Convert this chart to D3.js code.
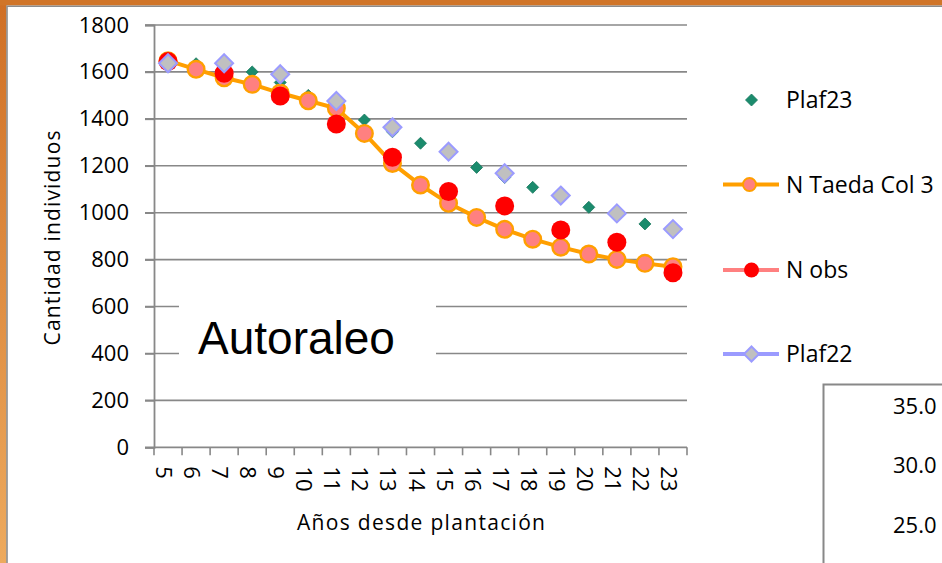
<!DOCTYPE html>
<html><head><meta charset="utf-8">
<script src="https://cdn.jsdelivr.net/npm/d3@7"></script>
<style>body{margin:0;background:#fff;} svg{display:block;font-family:'Open Sans',sans-serif;}</style>
</head><body><svg id="c" width="942" height="563"></svg>
<script>
const years = [5,6,7,8,9,10,11,12,13,14,15,16,17,18,19,20,21,22,23];
const yTicks = [0,200,400,600,800,1000,1200,1400,1600,1800];
const plaf23 = [1645,1635,1615,1600,1555,1500,1450,1395,1345,1296,1250,1193,1150,1108,1065,1023,990,952,925];
const nTaeda = [1648,1611,1575,1547,1510,1477,1445,1338,1210,1118,1040,980,929,887,853,824,801,784,770];
const nObs   = [1644,null,1594,null,1497,null,1378,null,1236,null,1090,null,1029,null,926,null,874,null,744];
const plaf22 = [1637,null,1637,null,1590,null,1476,null,1364,null,1260,null,1168,null,1073,null,997,null,930];
const seriesNames = ["Plaf23","N Taeda Col 3","N obs","Plaf22"];
const xTitle = "Años desde plantación";
const yTitle = "Cantidad individuos";
const boxText = "Autoraleo";
const sideTicks = ["35.0","30.0","25.0"];

const svg = d3.select("#c");
const W = 942, H = 563;

// frame
const defs = svg.append("defs");
const g1 = defs.append("linearGradient").attr("id","lg").attr("x1",0).attr("y1",0).attr("x2",0).attr("y2",1);
g1.append("stop").attr("offset","0%").attr("stop-color","#CF6F25");
g1.append("stop").attr("offset","100%").attr("stop-color","#EDAA5E");
svg.append("rect").attr("x",0).attr("y",0).attr("width",W).attr("height",H).attr("fill","#fff");
svg.append("rect").attr("x",0).attr("y",0).attr("width",6.5).attr("height",H).attr("fill","url(#lg)");
svg.append("rect").attr("x",0).attr("y",0).attr("width",W).attr("height",5.5).attr("fill","#D07529");
svg.append("path").attr("d",`M7,${H} V6.2 H${W}`).attr("fill","none").attr("stroke","#8c8c8c").attr("stroke-width",1.6);

// scales
const x = d3.scaleBand().domain(years).range([154,687]).padding(0);
const y = d3.scaleLinear().domain([0,1800]).range([447.3,25]);
const cx = d => x(d) + x.bandwidth()/2;

// gridlines
svg.append("g").selectAll("line").data(yTicks.filter(t=>t>0)).join("line")
  .attr("x1",145).attr("x2",687).attr("y1",d=>y(d)).attr("y2",d=>y(d))
  .attr("stroke","#888").attr("stroke-width",1.6);

// y axis
const ya = svg.append("g").attr("transform","translate(154,0)")
  .call(d3.axisLeft(y).tickValues(yTicks).tickSize(9).tickPadding(16).tickFormat(d3.format("d")));
ya.select(".domain").attr("stroke","#888").attr("stroke-width",1.8);
ya.selectAll(".tick line").attr("stroke","#888").attr("stroke-width",1.6);
ya.selectAll(".tick text").attr("font-size",22).attr("font-family","'Open Sans',sans-serif").attr("fill","#000");

// x axis
const xa = svg.append("g").attr("transform","translate(0,447.3)");
xa.append("line").attr("x1",145).attr("x2",687).attr("y1",0).attr("y2",0).attr("stroke","#888").attr("stroke-width",1.8);
const bounds = years.map(d=>x(d)).concat([687]);
xa.selectAll("line.t").data(bounds).join("line").attr("class","t")
  .attr("x1",d=>d).attr("x2",d=>d).attr("y1",0).attr("y2",8).attr("stroke","#888").attr("stroke-width",1.6);
xa.selectAll("text").data(years).join("text")
  .attr("transform",d=>`translate(${cx(d)},19) rotate(90)`)
  .attr("dy",12).attr("font-size",22).attr("fill","#000").text(d=>d);

// axis titles
svg.append("text").attr("x",421).attr("y",530).attr("text-anchor","middle").attr("font-size",21)
  .attr("textLength",248).attr("lengthAdjust","spacing").text(xTitle);
svg.append("text").attr("transform","translate(60,238) rotate(-90)").attr("text-anchor","middle")
  .attr("font-size",21).attr("textLength",215).attr("lengthAdjust","spacing").text(yTitle);

// text box
svg.append("rect").attr("x",179).attr("y",272).attr("width",257).attr("height",105).attr("fill","#fff");
svg.append("text").attr("x",198).attr("y",354).attr("font-size",46)
  .attr("font-family","'Liberation Sans',Arial,sans-serif").attr("fill","#000").text(boxText);

// markers
const diamond = r => `M0,${-r}L${r},0L0,${r}L${-r},0Z`;
const plot = svg.append("g");
// Plaf23
plot.append("g").selectAll("path").data(years.map((d,i)=>[d,plaf23[i]]).filter(p=>p[1]!=null)).join("path")
  .attr("transform",p=>`translate(${cx(p[0])},${y(p[1])})`).attr("d",diamond(6))
  .attr("fill","#1B8B6D").attr("stroke","#16775d").attr("stroke-width",0.8);
// N Taeda line + circles
const tdata = years.map((d,i)=>[d,nTaeda[i]]);
plot.append("path").datum(tdata).attr("d",d3.line().x(p=>cx(p[0])).y(p=>y(p[1])))
  .attr("fill","none").attr("stroke","#FF9F00").attr("stroke-width",4);
plot.append("g").selectAll("circle").data(tdata).join("circle")
  .attr("cx",p=>cx(p[0])).attr("cy",p=>y(p[1])).attr("r",8.3)
  .attr("fill","#FF8080").attr("stroke","#FF9F00").attr("stroke-width",2.4);
// N obs
plot.append("g").selectAll("circle").data(years.map((d,i)=>[d,nObs[i]]).filter(p=>p[1]!=null)).join("circle")
  .attr("cx",p=>cx(p[0])).attr("cy",p=>y(p[1])).attr("r",9.5).attr("fill","#FF0000");
// Plaf22
plot.append("g").selectAll("path").data(years.map((d,i)=>[d,plaf22[i]]).filter(p=>p[1]!=null)).join("path")
  .attr("transform",p=>`translate(${cx(p[0])},${y(p[1])})`).attr("d",diamond(9))
  .attr("fill","#C0C0C0").attr("stroke","#9B9BFF").attr("stroke-width",2);

// legend
const lg = svg.append("g");
const lx = 751.5, ly = [100,184.5,270,354];
lg.append("path").attr("transform",`translate(${lx},${ly[0]})`).attr("d",diamond(6)).attr("fill","#1B8B6D").attr("stroke","#16775d").attr("stroke-width",0.8);
lg.append("line").attr("x1",723).attr("x2",779).attr("y1",ly[1]).attr("y2",ly[1]).attr("stroke","#FF9F00").attr("stroke-width",4);
lg.append("circle").attr("cx",749.5).attr("cy",ly[1]).attr("r",6.5).attr("fill","#FF8080").attr("stroke","#FF9F00").attr("stroke-width",2);
lg.append("line").attr("x1",723).attr("x2",779).attr("y1",ly[2]).attr("y2",ly[2]).attr("stroke","#FF8080").attr("stroke-width",4);
lg.append("circle").attr("cx",751.5).attr("cy",ly[2]).attr("r",7.5).attr("fill","#FF0000");
lg.append("line").attr("x1",723).attr("x2",779).attr("y1",ly[3]).attr("y2",ly[3]).attr("stroke","#9B9BFF").attr("stroke-width",4);
lg.append("path").attr("transform",`translate(${lx},${ly[3]})`).attr("d",diamond(7.5)).attr("fill","#C0C0C0").attr("stroke","#9B9BFF").attr("stroke-width",2);
lg.selectAll("text").data(seriesNames).join("text")
  .attr("x",786).attr("y",(d,i)=>ly[i]+8).attr("font-size",23).attr("fill","#000").text(d=>d);

// partial second chart at bottom-right
svg.append("rect").attr("x",823.5).attr("y",384.5).attr("width",200).attr("height",250)
  .attr("fill","#fff").attr("stroke","#888").attr("stroke-width",2);
svg.append("g").selectAll("text").data(sideTicks).join("text")
  .attr("x",893).attr("y",(d,i)=>413.5+i*59.7).attr("font-size",22).attr("fill","#000").text(d=>d);
</script></body></html>
